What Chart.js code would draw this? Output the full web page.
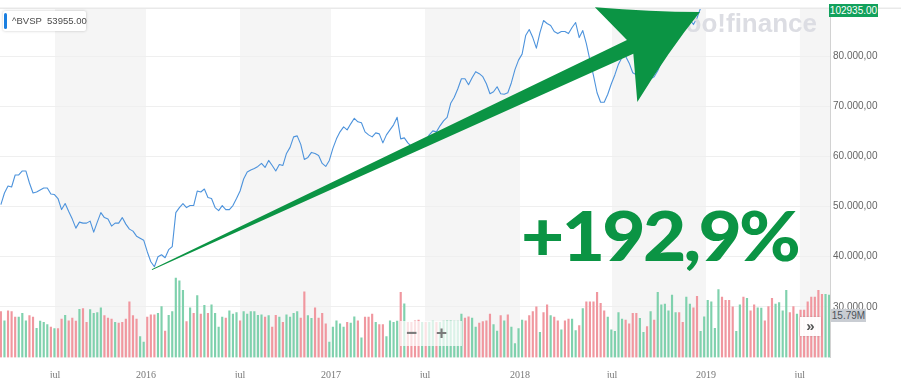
<!DOCTYPE html>
<html><head><meta charset="utf-8">
<script src="https://cdn.jsdelivr.net/npm/chart.js@4.4.1/dist/chart.umd.min.js"></script>
<style>
html,body{margin:0;padding:0;background:#fff;}
#wrap{position:relative;width:901px;height:378px;overflow:hidden;font-family:"Liberation Sans",Arial,sans-serif;}
canvas{position:absolute;left:0;top:0;}
.legend{position:absolute;left:3px;top:11px;height:20px;width:83px;background:#fff;box-shadow:0 0 3px rgba(0,0,0,0.22);border-radius:2px;}
.legend .bar{position:absolute;left:1px;top:2px;width:3px;height:16px;background:#1b7fe0;border-radius:2px;}
.legend .txt{position:absolute;left:9px;top:4px;font-size:9.5px;line-height:12px;color:#4a4a4a;white-space:nowrap;}
.lastp{position:absolute;left:829px;top:4px;width:49px;height:13px;background:#12a15c;color:#fff;font-size:10px;line-height:13px;text-align:center;}
.lastv{position:absolute;left:831px;top:309px;width:35px;height:13px;background:#c9cdd3;color:#4d525a;font-size:10px;line-height:13px;text-align:center;}
.more{position:absolute;left:800px;top:317px;width:21px;height:19px;background:rgba(255,255,255,0.95);box-shadow:0 0 2px rgba(0,0,0,0.15);color:#555;font-size:15px;line-height:18px;text-align:center;font-weight:bold;}
.zoom{position:absolute;left:400px;top:321px;width:62px;height:25px;background:rgba(255,255,255,0.72);}
.zoom span{position:absolute;top:2px;font-size:19px;line-height:20px;color:#7a7a7a;font-weight:bold;}
.big{position:absolute;left:521px;top:200px;font-family:Lato,"Noto Sans",sans-serif;font-weight:900;font-size:83px;line-height:83px;color:#0b9444;white-space:nowrap;letter-spacing:-3px;transform:scale(0.9,0.83);transform-origin:0 0;}
</style></head>
<body>
<div id="wrap">
<canvas id="c" width="901" height="378"></canvas>
<div class="legend"><div class="bar"></div><div class="txt">^BVSP&nbsp; 53955.00</div></div>
<div class="lastp">102935.00</div>
<div class="zoom"><span style="left:6px">&minus;</span><span style="left:36px">+</span></div>
<div class="more">&raquo;</div>
<div class="lastv">15.79M</div>
<div class="big">+192,9%</div>
</div>
<script>
// ---- data (weekly, index 0 = late Mar 2015) ----
const closeValues = [
50400,52700,54100,53900,56300,56300,57100,57100,54700,52700,
52900,53300,53700,53700,52500,52400,51600,49400,50600,49000,
47500,45700,46900,46700,46700,47100,44900,46900,48800,47800,
47500,46100,46700,46700,47800,46500,45500,45100,44100,43700,
43300,41000,39000,38000,40000,40400,39800,41400,42000,48800,
49800,50600,49800,50200,50200,53100,52900,53500,51800,51600,
49800,49200,50200,49400,49400,50200,51600,53100,55500,56900,
57300,57600,58000,58600,57800,59200,58200,57100,58400,58200,
60600,61800,63900,64100,62400,59400,59800,60800,60600,60200,
58600,58000,59200,61600,63500,64900,65900,65300,66500,67600,
66900,66700,64900,64300,63900,64700,64500,62700,64300,65300,
66300,67800,63500,63700,62700,62000,61600,61600,62200,63100,
64300,65100,64900,66100,67100,67800,70600,71800,73500,75500,
75500,74300,75700,76900,76500,75900,74500,72500,72900,73900,
72500,72400,72700,74700,77300,79200,80400,84100,85300,83700,
81600,84700,87100,86500,86100,84900,84500,84900,84900,84500,
85700,86700,83700,85100,82500,79200,76100,72700,70800,70800,
72400,74500,76300,78400,79800,80000,78600,76700,76300,75900,
75300,75100,75500,75900,77100,78800,82500,83500,84100,84300,
84500,86100,88200,87300,86300,87600,89600,91000,93600,94500,
96000,97700,95000,98000,95500,97500,98600,96200,93700,95600,
94000,96000,95000,94600,96500,94000,91600,90000,94500,96900,
97000,98000,100000,102000,103900,104100,103000,102700,103000,100000,
101000,99500,102935];
const volumeM = [
11.6,9.3,11.8,11.6,10.2,10.2,11.2,9.3,10.6,10.2,
7.4,9.2,8.9,8.3,7.7,7.3,7.3,9.7,10.7,9.3,
10.0,9.2,12.2,12.4,8.9,12.1,11.2,11.4,12.6,10.6,
10.0,9.7,8.9,8.7,8.9,9.7,14.1,10.6,9.7,5.3,
3.9,10.2,10.8,10.8,11.2,12.9,6.7,10.7,11.6,20.1,
19.4,17.0,9.1,12.6,11.2,15.7,11.0,13.2,11.2,13.3,
11.2,7.7,10.2,10.0,11.8,11.0,11.4,9.3,11.6,11.0,
11.6,11.6,10.7,10.8,10.2,10.6,7.7,10.7,10.2,8.9,
10.8,10.2,11.2,11.6,10.0,16.6,10.6,9.9,12.6,10.0,
11.2,8.5,3.9,7.7,9.3,8.5,7.7,8.9,8.7,10.3,
9.3,5.0,10.2,10.2,11.0,8.9,8.3,8.3,5.3,9.3,
8.9,9.2,16.5,13.6,8.9,8.9,9.3,9.5,8.9,8.9,
8.9,9.2,8.9,8.9,9.2,9.3,
9.3,9.2,9.2,11.0,10.0,10.3,10.0,7.7,8.7,9.1,
9.3,11.0,8.3,6.7,10.6,9.3,10.8,7.7,3.5,7.3,
9.5,9.3,10.6,11.6,12.8,6.4,11.4,13.3,10.6,10.2,
9.3,7.0,9.3,9.7,9.7,6.8,8.1,12.4,14.1,14.1,
14.1,16.5,13.7,11.8,10.2,7.0,6.6,11.4,9.7,9.5,
8.5,11.2,11.2,9.9,6.4,7.8,11.6,9.5,16.5,13.3,
13.5,11.8,15.8,11.4,11.4,8.9,15.3,13.5,12.6,15.5,
6.6,10.3,14.5,14.1,7.4,17.2,15.3,14.5,14.5,12.8,
6.6,13.3,15.3,15.0,11.8,13.3,12.6,12.5,9.3,12.9,
15.0,13.5,13.9,11.8,17.0,11.4,12.9,11.0,12.0,12.0,
14.1,15.3,15.3,17.0,16.0,16.0,15.8];
const volumeUp = [
0,1,0,0,0,1,1,1,0,0, 1,1,1,1,0,1,0,0,1,0, 0,0,1,0,0,1,1,1,1,0, 0,0,1,0,0,0,0,0,0,1,
1,0,0,0,1,1,0,1,1,1, 1,1,0,1,0,1,0,1,0,1, 1,1,1,0,1,1,1,0,1,1, 1,1,1,1,0,1,0,0,1,0,
1,1,1,1,0,0,1,1,0,0, 0,0,1,1,1,1,1,0,1,1, 0,1,0,0,0,1,0,0,1,1, 1,1,0,1,0,0,0,0,1,0,
1,1,0,1,1,1,
1,1,1,1,0,0,1,1,0,0, 0,0,1,1,0,1,0,1,1,1, 1,0,0,0,0,1,0,0,1,0, 0,1,0,0,1,1,0,1,0,0,
0,0,0,0,1,1,1,1,1,0, 0,0,0,1,1,0,1,0,1,1, 1,1,1,1,0,0,1,1,0,0, 1,1,1,1,1,1,0,0,0,0,
1,1,0,1,0,0,1,1,0,0, 0,1,1,1,1,0,0,1,0,0, 0,0,0,0,0,1,1];
const tickPos = [15.16,40.65,66.98,92.47,118.8,145.4,171.2,197.5,223.8];
const tickLabels = ['jul','2016','jul','2017','jul','2018','jul','2019','jul'];
const priceTicks = [30000,40000,50000,60000,70000,80000];
const arrowFrom = {x:42.3, y:37450};
const arrowTo = {x:195.8, y:88820};

const fmtPrice = v => (v/1000).toFixed(0) + '.000,00';

const decor = {
  id:'decor',
  beforeDraw(chart){
    const {ctx, chartArea:a, scales:{x}} = chart;
    ctx.save();
    ctx.fillStyle = '#f5f5f5';
    tickLabels.forEach((lab,k)=>{
      if(lab!=='jul') return;
      const x0 = x.getPixelForValue(tickPos[k]);
      const x1 = k+1<tickPos.length ? x.getPixelForValue(tickPos[k+1]) : a.right;
      ctx.fillRect(x0, a.top, Math.min(x1,a.right)-x0, a.bottom-a.top);
    });
    ctx.fillStyle = '#e9e9e9';
    ctx.fillRect(0, a.top-1.5, chart.width, 1.5);
    ctx.restore();
  },
  afterDatasetsDraw(chart){
    const {ctx, scales:{x,y}} = chart;
    ctx.save();
    // watermark
    ctx.font = 'bold 26px "Liberation Sans", Arial, sans-serif';
    ctx.fillStyle = '#dcdde3';
    ctx.textAlign = 'right';
    ctx.textBaseline = 'alphabetic';
    ctx.fillText('yahoo!finance', 817, 32);
    // arrow
    const S = {x:x.getPixelForValue(arrowFrom.x), y:y.getPixelForValue(arrowFrom.y)};
    const T = {x:x.getPixelForValue(arrowTo.x), y:y.getPixelForValue(arrowTo.y)};
    const dx=T.x-S.x, dy=T.y-S.y, L=Math.hypot(dx,dy);
    const ux=dx/L, uy=dy/L, nx=-uy, ny=ux;
    const P=(a,b)=>[T.x+a*ux+b*nx, T.y+a*uy+b*ny];
    ctx.fillStyle = '#0b9444';
    ctx.beginPath();
    ctx.moveTo(...P(-L,-0.4));
    ctx.lineTo(...P(-78,-5.5));
    ctx.lineTo(...P(-93,-49));
    ctx.quadraticCurveTo(...P(-44,-21), ...P(0,0));
    ctx.quadraticCurveTo(...P(-45,22), ...P(-95,55));
    ctx.lineTo(...P(-78,9.5));
    ctx.lineTo(...P(-L,0.6));
    ctx.closePath();
    ctx.fill();
    ctx.restore();
  }
};

const idx = closeValues.map((_,i)=>i);
new Chart(document.getElementById('c'), {
  type:'bar',
  data:{
    datasets:[
      {type:'line', data: closeValues.map((v,i)=>({x:idx[i], y:v})), yAxisID:'y', xAxisID:'x',
        borderColor:'#4d93dc', borderWidth:1.1, pointRadius:0, tension:0, clip:0, order:0, borderJoinStyle:'round'},
      {type:'bar', data: volumeM.map((v,i)=>({x:idx[i], y:v})), yAxisID:'yv', xAxisID:'x',
        backgroundColor: volumeUp.map(u=> u ? '#7fd1ad' : '#f0979f'), barThickness:1.5, order:1}
    ]
  },
  options:{
    responsive:false, animation:false, events:[],
    layout:{padding:{top:3,left:0,right:0,bottom:0}},
    plugins:{legend:{display:false}, tooltip:{enabled:false}},
    scales:{
      x:{type:'linear', min:-0.25, max:232.25, offset:false,
        grid:{display:false}, border:{display:false},
        afterBuildTicks(s){ s.ticks = tickPos.map(v=>({value:v})); },
        afterFit(s){ s.height = 20.5; },
        ticks:{autoSkip:false, maxRotation:0, padding:4, color:'#777',
          font:{family:'"Liberation Serif", "DejaVu Serif", serif', size:10},
          callback:(v,i)=>tickLabels[i]}},
      y:{type:'linear', position:'right', min:19900, max:89400,
        grid:{color:'#efefef', drawTicks:false}, border:{display:true, color:'#d2d2d2'},
        afterBuildTicks(s){ s.ticks = priceTicks.map(v=>({value:v})); },
        afterFit(s){ s.width = 71; },
        ticks:{padding:3, color:'#666', font:{family:'"Liberation Sans", Arial, sans-serif', size:10},
          callback:v=>fmtPrice(v)}},
      yv:{type:'linear', display:false, min:0, max:88.2}
    }
  },
  plugins:[decor]
});
</script>
</body></html>
